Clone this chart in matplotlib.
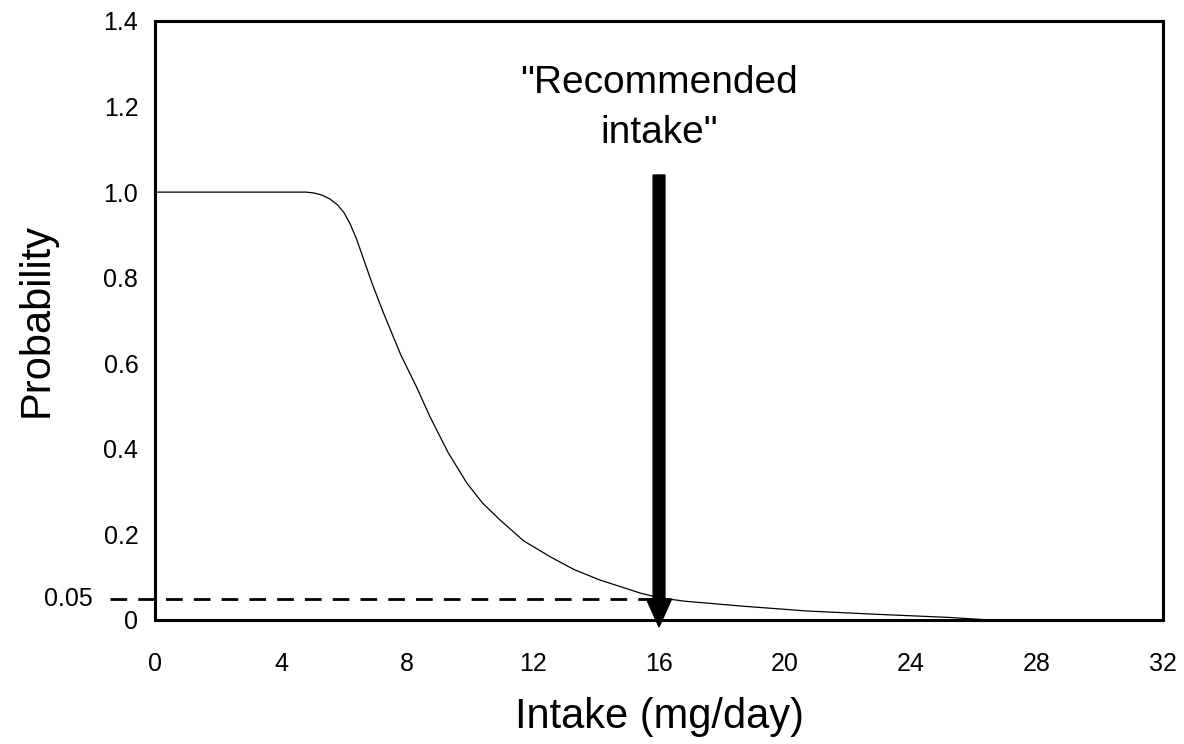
import numpy as np
import matplotlib
matplotlib.use("Agg")
import matplotlib.pyplot as plt

plt.rcParams['font.family'] = ['Liberation Sans', 'DejaVu Sans']

# probability curve
intake = np.array([0, 2, 4, 4.8, 5.05, 5.3, 5.55, 5.8, 6.0, 6.2, 6.4, 6.6,
                   6.9, 7.24, 7.8, 8.3, 8.73, 9.3, 9.9, 10.4, 10.95, 11.7,
                   12.54, 13.3, 14.1, 15.4, 16.0, 16.8, 18.7, 20.7, 23.0,
                   25.2, 26.5, 28, 32])
prob = np.array([1.0, 1.0, 1.0, 1.0, 0.998, 0.993, 0.984, 0.97, 0.952, 0.925,
                 0.89, 0.848, 0.785, 0.72, 0.62, 0.545, 0.475, 0.392, 0.32,
                 0.273, 0.234, 0.185, 0.148, 0.118, 0.094, 0.063, 0.052,
                 0.044, 0.032, 0.021, 0.013, 0.006, 0.0, 0.0, 0.0])

threshold = 0.05
recommended = 16
arrow_top = 1.04

xticks = [0, 4, 8, 12, 16, 20, 24, 28, 32]
yticks = [0, 0.2, 0.4, 0.6, 0.8, 1.0, 1.2, 1.4]
ylabels = ['0', '0.2', '0.4', '0.6', '0.8', '1.0', '1.2', '1.4']

fig = plt.figure(figsize=(11.84, 7.44), dpi=100)
ax = fig.add_axes([0.1309, 0.1667, 0.8514, 0.8051])

ax.plot(intake, prob, color='black', lw=0.9)

# dashed 0.05 line, runs out past the left axis
ax.plot([-1.43, recommended], [threshold, threshold], color='black', lw=2.0,
        linestyle=(0, (6, 4)), clip_on=False)
ax.text(-0.0615, threshold, '0.05', transform=ax.get_yaxis_transform(),
        ha='right', va='center', fontsize=18)

ax.annotate('', xy=(recommended, -0.016), xytext=(recommended, arrow_top),
            arrowprops=dict(width=8.5, headwidth=18, headlength=20, shrink=0,
                            facecolor='black', edgecolor='black'),
            annotation_clip=False)
ax.text(recommended, 1.197, '"Recommended\nintake"', ha='center', va='center',
        fontsize=28, linespacing=1.5)

ax.set_xlim(0, 32)
ax.set_ylim(0, 1.4)
ax.set_xticks(xticks)
ax.set_xticklabels([str(t) for t in xticks], fontsize=18)
ax.set_yticks(yticks)
ax.set_yticklabels(ylabels, fontsize=18)
ax.tick_params(axis='x', length=0, pad=23)
ax.tick_params(axis='y', length=0, pad=12)
for s in ax.spines.values():
    s.set_linewidth(2.2)

ax.set_xlabel('Intake (mg/day)', fontsize=30, labelpad=15)
ax.set_ylabel('Probability', fontsize=30, labelpad=34)

fig.savefig('out.png', dpi=100)
